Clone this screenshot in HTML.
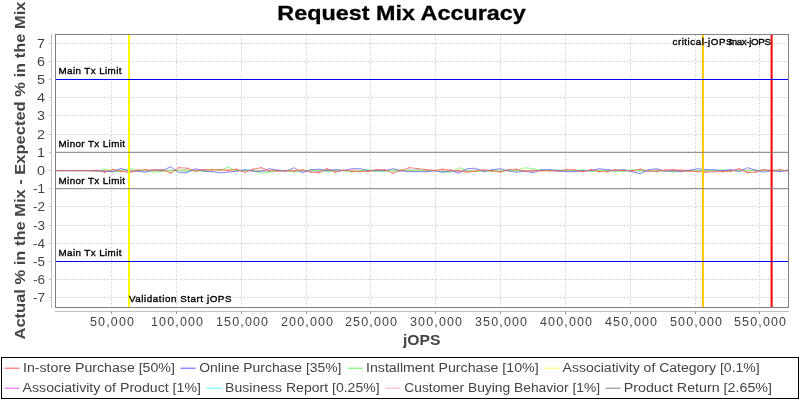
<!DOCTYPE html><html><head><meta charset="utf-8"><style>html,body{margin:0;padding:0;background:#fff;}svg{display:block;will-change:transform;}text{font-family:"Liberation Sans", sans-serif;}</style></head><body>
<svg width="800" height="400" viewBox="0 0 800 400">
<rect x="0" y="0" width="800" height="400" fill="#fff"/>
<text x="277.3" y="20" font-size="21" font-weight="bold" fill="#000" stroke="#000" stroke-width="0.3" textLength="248.5" lengthAdjust="spacingAndGlyphs">Request Mix Accuracy</text>
<g stroke="#d0d0d0" stroke-width="1" stroke-dasharray="2,2"><line x1="55.5" y1="297.5" x2="788" y2="297.5"/><line x1="55.5" y1="279.5" x2="788" y2="279.5"/><line x1="55.5" y1="261.5" x2="788" y2="261.5"/><line x1="55.5" y1="243.5" x2="788" y2="243.5"/><line x1="55.5" y1="225.5" x2="788" y2="225.5"/><line x1="55.5" y1="206.5" x2="788" y2="206.5"/><line x1="55.5" y1="188.5" x2="788" y2="188.5"/><line x1="55.5" y1="170.5" x2="788" y2="170.5"/><line x1="55.5" y1="152.5" x2="788" y2="152.5"/><line x1="55.5" y1="134.5" x2="788" y2="134.5"/><line x1="55.5" y1="115.5" x2="788" y2="115.5"/><line x1="55.5" y1="97.5" x2="788" y2="97.5"/><line x1="55.5" y1="79.5" x2="788" y2="79.5"/><line x1="55.5" y1="61.5" x2="788" y2="61.5"/><line x1="55.5" y1="43.5" x2="788" y2="43.5"/><line x1="111.5" y1="34.5" x2="111.5" y2="307"/><line x1="176.5" y1="34.5" x2="176.5" y2="307"/><line x1="241.5" y1="34.5" x2="241.5" y2="307"/><line x1="306.5" y1="34.5" x2="306.5" y2="307"/><line x1="370.5" y1="34.5" x2="370.5" y2="307"/><line x1="435.5" y1="34.5" x2="435.5" y2="307"/><line x1="500.5" y1="34.5" x2="500.5" y2="307"/><line x1="565.5" y1="34.5" x2="565.5" y2="307"/><line x1="630.5" y1="34.5" x2="630.5" y2="307"/><line x1="695.5" y1="34.5" x2="695.5" y2="307"/><line x1="759.5" y1="34.5" x2="759.5" y2="307"/></g>
<g stroke="#c0c0c0" stroke-width="1" shape-rendering="crispEdges"><line x1="51.5" y1="34" x2="51.5" y2="308"/><line x1="55" y1="311.5" x2="789" y2="311.5"/><line x1="49" y1="297.5" x2="51" y2="297.5"/><line x1="49" y1="279.5" x2="51" y2="279.5"/><line x1="49" y1="261.5" x2="51" y2="261.5"/><line x1="49" y1="243.5" x2="51" y2="243.5"/><line x1="49" y1="225.5" x2="51" y2="225.5"/><line x1="49" y1="206.5" x2="51" y2="206.5"/><line x1="49" y1="188.5" x2="51" y2="188.5"/><line x1="49" y1="170.5" x2="51" y2="170.5"/><line x1="49" y1="152.5" x2="51" y2="152.5"/><line x1="49" y1="134.5" x2="51" y2="134.5"/><line x1="49" y1="115.5" x2="51" y2="115.5"/><line x1="49" y1="97.5" x2="51" y2="97.5"/><line x1="49" y1="79.5" x2="51" y2="79.5"/><line x1="49" y1="61.5" x2="51" y2="61.5"/><line x1="49" y1="43.5" x2="51" y2="43.5"/></g>
<g stroke="#999" stroke-width="1" shape-rendering="crispEdges"><line x1="111.5" y1="311" x2="111.5" y2="314"/><line x1="176.5" y1="311" x2="176.5" y2="314"/><line x1="241.5" y1="311" x2="241.5" y2="314"/><line x1="306.5" y1="311" x2="306.5" y2="314"/><line x1="370.5" y1="311" x2="370.5" y2="314"/><line x1="435.5" y1="311" x2="435.5" y2="314"/><line x1="500.5" y1="311" x2="500.5" y2="314"/><line x1="565.5" y1="311" x2="565.5" y2="314"/><line x1="630.5" y1="311" x2="630.5" y2="314"/><line x1="695.5" y1="311" x2="695.5" y2="314"/><line x1="759.5" y1="311" x2="759.5" y2="314"/></g>
<g font-size="12" fill="#444"><text x="45" y="302" text-anchor="end" textLength="12" lengthAdjust="spacingAndGlyphs">-7</text><text x="45" y="284" text-anchor="end" textLength="12" lengthAdjust="spacingAndGlyphs">-6</text><text x="45" y="266" text-anchor="end" textLength="12" lengthAdjust="spacingAndGlyphs">-5</text><text x="45" y="248" text-anchor="end" textLength="12" lengthAdjust="spacingAndGlyphs">-4</text><text x="45" y="230" text-anchor="end" textLength="12" lengthAdjust="spacingAndGlyphs">-3</text><text x="45" y="211" text-anchor="end" textLength="12" lengthAdjust="spacingAndGlyphs">-2</text><text x="45" y="193" text-anchor="end" textLength="12" lengthAdjust="spacingAndGlyphs">-1</text><text x="45" y="175" text-anchor="end" textLength="8" lengthAdjust="spacingAndGlyphs">0</text><text x="45" y="157" text-anchor="end" textLength="8" lengthAdjust="spacingAndGlyphs">1</text><text x="45" y="139" text-anchor="end" textLength="8" lengthAdjust="spacingAndGlyphs">2</text><text x="45" y="120" text-anchor="end" textLength="8" lengthAdjust="spacingAndGlyphs">3</text><text x="45" y="102" text-anchor="end" textLength="8" lengthAdjust="spacingAndGlyphs">4</text><text x="45" y="84" text-anchor="end" textLength="8" lengthAdjust="spacingAndGlyphs">5</text><text x="45" y="66" text-anchor="end" textLength="8" lengthAdjust="spacingAndGlyphs">6</text><text x="45" y="48" text-anchor="end" textLength="8" lengthAdjust="spacingAndGlyphs">7</text><text x="90.0" y="326" font-size="12.5" textLength="44" lengthAdjust="spacing">50,000</text><text x="151.0" y="326" font-size="12.5" textLength="52" lengthAdjust="spacing">100,000</text><text x="216.0" y="326" font-size="12.5" textLength="52" lengthAdjust="spacing">150,000</text><text x="281.0" y="326" font-size="12.5" textLength="52" lengthAdjust="spacing">200,000</text><text x="345.0" y="326" font-size="12.5" textLength="52" lengthAdjust="spacing">250,000</text><text x="410.0" y="326" font-size="12.5" textLength="52" lengthAdjust="spacing">300,000</text><text x="475.0" y="326" font-size="12.5" textLength="52" lengthAdjust="spacing">350,000</text><text x="540.0" y="326" font-size="12.5" textLength="52" lengthAdjust="spacing">400,000</text><text x="605.0" y="326" font-size="12.5" textLength="52" lengthAdjust="spacing">450,000</text><text x="670.0" y="326" font-size="12.5" textLength="52" lengthAdjust="spacing">500,000</text><text x="734.0" y="326" font-size="12.5" textLength="52" lengthAdjust="spacing">550,000</text></g>
<text x="403" y="345" font-size="14" font-weight="bold" fill="#444" textLength="37.5" lengthAdjust="spacingAndGlyphs">jOPS</text>
<text transform="translate(25,339.5) rotate(-90)" x="0" y="0" font-size="14" font-weight="bold" fill="#444" textLength="338" lengthAdjust="spacingAndGlyphs">Actual % in the Mix - Expected % in the Mix</text>
<defs><clipPath id="pc"><rect x="55.5" y="34" width="733" height="274"/></clipPath></defs>
<g clip-path="url(#pc)"><polyline points="55.2,170.6 63.4,170.6 71.7,170.6 79.9,170.6 88.2,170.6 96.4,171.0 104.6,170.8 112.9,171.2 121.1,171.0 129.4,170.5 137.6,170.4 145.8,170.5 154.1,170.3 162.3,170.5 170.6,170.5 178.8,170.6 187.0,171.0 195.3,170.5 203.5,170.2 211.8,170.9 220.0,170.3 228.2,170.5 236.5,170.6 244.7,170.5 253.0,170.3 261.2,170.5 269.4,171.3 277.7,170.4 285.9,170.6 294.2,170.9 302.4,170.8 310.6,170.8 318.9,170.9 327.1,170.0 335.4,170.3 343.6,170.6 351.8,170.7 360.1,171.0 368.3,170.7 376.6,170.5 384.8,170.6 393.0,170.5 401.3,170.7 409.5,170.8 417.8,170.5 426.0,170.4 434.2,170.3 442.5,170.9 450.7,171.0 459.0,170.9 467.2,170.9 475.4,170.8 483.7,170.6 491.9,170.8 500.2,170.3 508.4,170.5 516.6,170.4 524.9,170.8 533.1,170.4 541.4,170.6 549.6,170.7 557.8,171.0 566.1,170.4 574.3,170.3 582.6,170.8 590.8,170.3 599.0,170.7 607.3,170.4 615.5,170.6 623.8,170.1 632.0,170.8 640.2,170.4 648.5,170.3 656.7,171.2 665.0,170.8 673.2,171.7 681.4,170.7 689.7,170.5 697.9,170.6 706.2,171.1 714.4,170.6 722.6,170.7 730.9,170.8 739.1,170.3 747.4,170.6 755.6,170.4 763.8,170.2 772.1,170.9 780.3,170.8 788.6,170.6" fill="none" stroke="#808080" stroke-width="0.9" stroke-opacity="0.8"/><polyline points="55.2,170.6 63.4,170.6 71.7,170.6 79.9,170.6 88.2,170.6 96.4,170.7 104.6,170.1 112.9,170.8 121.1,170.2 129.4,170.1 137.6,171.1 145.8,170.5 154.1,170.7 162.3,171.0 170.6,170.6 178.8,170.6 187.0,170.0 195.3,170.7 203.5,170.7 211.8,170.9 220.0,170.3 228.2,171.1 236.5,170.1 244.7,170.5 253.0,170.6 261.2,170.2 269.4,170.8 277.7,169.8 285.9,171.3 294.2,171.0 302.4,170.6 310.6,170.4 318.9,170.1 327.1,170.7 335.4,170.9 343.6,170.4 351.8,169.9 360.1,170.3 368.3,170.9 376.6,169.8 384.8,170.1 393.0,170.7 401.3,170.8 409.5,171.2 417.8,170.8 426.0,170.1 434.2,170.5 442.5,170.4 450.7,171.4 459.0,170.0 467.2,171.0 475.4,170.5 483.7,170.7 491.9,170.3 500.2,171.2 508.4,170.2 516.6,170.5 524.9,170.7 533.1,170.2 541.4,170.8 549.6,170.6 557.8,170.2 566.1,171.2 574.3,170.7 582.6,171.2 590.8,170.9 599.0,170.8 607.3,170.9 615.5,170.6 623.8,170.4 632.0,170.9 640.2,170.9 648.5,170.5 656.7,169.9 665.0,170.3 673.2,169.8 681.4,169.7 689.7,170.6 697.9,170.8 706.2,170.7 714.4,170.3 722.6,170.6 730.9,170.5 739.1,170.1 747.4,169.9 755.6,170.5 763.8,170.3 772.1,170.5 780.3,170.1 788.6,171.1" fill="none" stroke="#ffafaf" stroke-width="0.9" stroke-opacity="0.8"/><polyline points="55.2,170.6 63.4,170.6 71.7,170.6 79.9,170.6 88.2,170.6 96.4,170.8 104.6,171.2 112.9,170.2 121.1,170.0 129.4,170.9 137.6,170.9 145.8,170.2 154.1,170.4 162.3,170.4 170.6,170.2 178.8,170.4 187.0,171.1 195.3,170.8 203.5,171.3 211.8,170.6 220.0,170.6 228.2,170.2 236.5,170.6 244.7,170.1 253.0,170.0 261.2,170.9 269.4,171.1 277.7,170.9 285.9,171.1 294.2,170.7 302.4,170.3 310.6,170.6 318.9,170.5 327.1,170.2 335.4,170.0 343.6,170.1 351.8,170.6 360.1,170.7 368.3,170.4 376.6,171.1 384.8,170.7 393.0,170.8 401.3,171.0 409.5,170.3 417.8,169.9 426.0,170.9 434.2,170.4 442.5,171.1 450.7,170.7 459.0,171.0 467.2,170.9 475.4,169.9 483.7,170.9 491.9,170.4 500.2,170.3 508.4,170.4 516.6,170.9 524.9,170.9 533.1,171.0 541.4,170.0 549.6,170.4 557.8,169.7 566.1,170.6 574.3,170.8 582.6,170.3 590.8,170.7 599.0,170.7 607.3,171.0 615.5,170.3 623.8,170.3 632.0,170.3 640.2,171.2 648.5,171.0 656.7,170.6 665.0,170.7 673.2,170.6 681.4,170.7 689.7,170.5 697.9,170.5 706.2,170.1 714.4,170.4 722.6,171.2 730.9,170.8 739.1,170.6 747.4,170.5 755.6,170.6 763.8,170.7 772.1,170.4 780.3,170.7 788.6,170.7" fill="none" stroke="#55ffff" stroke-width="0.9" stroke-opacity="0.8"/><polyline points="55.2,170.6 63.4,170.6 71.7,170.6 79.9,170.6 88.2,170.6 96.4,170.2 104.6,170.8 112.9,170.6 121.1,170.6 129.4,171.2 137.6,170.5 145.8,170.9 154.1,170.7 162.3,170.7 170.6,170.4 178.8,170.5 187.0,170.3 195.3,170.4 203.5,169.7 211.8,170.9 220.0,170.1 228.2,170.6 236.5,170.8 244.7,170.4 253.0,171.0 261.2,171.2 269.4,170.7 277.7,170.4 285.9,170.8 294.2,171.1 302.4,170.8 310.6,170.5 318.9,171.3 327.1,170.4 335.4,170.3 343.6,170.4 351.8,170.7 360.1,170.7 368.3,170.9 376.6,170.5 384.8,170.5 393.0,170.3 401.3,170.8 409.5,170.2 417.8,170.5 426.0,170.8 434.2,170.6 442.5,170.5 450.7,170.7 459.0,171.1 467.2,170.9 475.4,170.2 483.7,170.4 491.9,171.4 500.2,170.6 508.4,170.7 516.6,170.6 524.9,171.0 533.1,170.8 541.4,170.7 549.6,170.3 557.8,170.9 566.1,170.8 574.3,170.9 582.6,171.4 590.8,170.0 599.0,170.3 607.3,170.1 615.5,170.4 623.8,170.5 632.0,170.7 640.2,170.6 648.5,171.1 656.7,170.3 665.0,170.7 673.2,170.6 681.4,170.3 689.7,170.3 697.9,170.6 706.2,170.3 714.4,170.7 722.6,170.6 730.9,170.0 739.1,170.4 747.4,171.1 755.6,170.3 763.8,170.4 772.1,170.0 780.3,170.9 788.6,170.4" fill="none" stroke="#ff55ff" stroke-width="0.9" stroke-opacity="0.8"/><polyline points="55.2,170.6 63.4,170.6 71.7,170.6 79.9,170.6 88.2,170.6 96.4,170.6 104.6,170.1 112.9,170.6 121.1,170.8 129.4,171.0 137.6,170.2 145.8,170.1 154.1,170.9 162.3,170.8 170.6,171.2 178.8,171.0 187.0,170.6 195.3,170.5 203.5,171.5 211.8,170.5 220.0,170.3 228.2,170.2 236.5,170.6 244.7,170.7 253.0,170.5 261.2,170.6 269.4,170.7 277.7,170.8 285.9,171.0 294.2,170.7 302.4,170.0 310.6,170.9 318.9,170.1 327.1,170.5 335.4,170.1 343.6,170.6 351.8,170.3 360.1,170.7 368.3,171.8 376.6,170.6 384.8,170.9 393.0,170.1 401.3,170.5 409.5,170.8 417.8,170.6 426.0,170.7 434.2,170.6 442.5,170.2 450.7,170.8 459.0,170.3 467.2,171.3 475.4,170.4 483.7,170.8 491.9,170.6 500.2,170.9 508.4,170.4 516.6,171.0 524.9,170.6 533.1,171.1 541.4,170.8 549.6,170.7 557.8,170.3 566.1,170.9 574.3,170.8 582.6,171.2 590.8,170.5 599.0,170.8 607.3,170.8 615.5,170.7 623.8,170.7 632.0,170.7 640.2,170.4 648.5,170.2 656.7,170.5 665.0,170.8 673.2,171.1 681.4,171.0 689.7,171.0 697.9,170.9 706.2,170.9 714.4,170.7 722.6,170.9 730.9,171.2 739.1,170.5 747.4,170.4 755.6,171.3 763.8,170.7 772.1,170.9 780.3,170.9 788.6,170.2" fill="none" stroke="#ffff55" stroke-width="0.9" stroke-opacity="0.8"/><polyline points="55.2,170.6 63.4,170.6 71.7,170.6 79.9,170.6 88.2,170.6 96.4,171.0 104.6,169.2 112.9,171.2 121.1,171.2 129.4,168.4 137.6,170.7 145.8,170.7 154.1,172.2 162.3,171.2 170.6,170.7 178.8,170.2 187.0,170.2 195.3,170.7 203.5,170.7 211.8,169.2 220.0,170.2 228.2,167.2 236.5,170.7 244.7,170.7 253.0,170.7 261.2,173.2 269.4,172.2 277.7,170.7 285.9,170.2 294.2,172.2 302.4,170.7 310.6,170.2 318.9,170.7 327.1,171.7 335.4,171.2 343.6,170.7 351.8,172.2 360.1,170.7 368.3,169.7 376.6,171.2 384.8,171.2 393.0,170.7 401.3,170.2 409.5,170.2 417.8,170.2 426.0,171.2 434.2,170.7 442.5,172.2 450.7,172.2 459.0,167.7 467.2,170.7 475.4,171.7 483.7,170.7 491.9,171.2 500.2,171.2 508.4,170.7 516.6,170.7 524.9,167.7 533.1,168.7 541.4,170.7 549.6,170.2 557.8,170.7 566.1,170.7 574.3,170.7 582.6,169.7 590.8,171.7 599.0,170.7 607.3,170.7 615.5,171.2 623.8,171.7 632.0,169.7 640.2,170.7 648.5,170.7 656.7,170.7 665.0,170.7 673.2,172.2 681.4,170.7 689.7,170.7 697.9,170.7 706.2,170.7 714.4,170.7 722.6,169.7 730.9,170.7 739.1,170.7 747.4,170.7 755.6,170.7 763.8,170.2 772.1,170.7 780.3,170.7 788.6,170.7" fill="none" stroke="#55ff55" stroke-width="0.9" stroke-opacity="0.8"/><polyline points="55.2,170.6 63.4,170.6 71.7,170.6 79.9,170.6 88.2,170.6 96.4,170.7 104.6,171.2 112.9,171.7 121.1,168.4 129.4,171.2 137.6,171.2 145.8,172.2 154.1,169.7 162.3,170.7 170.6,166.7 178.8,172.7 187.0,172.7 195.3,168.7 203.5,171.2 211.8,171.7 220.0,172.7 228.2,172.2 236.5,171.2 244.7,169.7 253.0,171.2 261.2,171.2 269.4,168.7 277.7,170.2 285.9,171.2 294.2,167.7 302.4,172.7 310.6,169.7 318.9,169.2 327.1,170.7 335.4,169.7 343.6,170.7 351.8,168.7 360.1,168.7 368.3,170.7 376.6,170.7 384.8,170.7 393.0,168.7 401.3,170.7 409.5,171.7 417.8,171.7 426.0,171.7 434.2,170.7 442.5,172.2 450.7,170.7 459.0,173.2 467.2,168.7 475.4,168.2 483.7,171.7 491.9,169.7 500.2,168.7 508.4,171.0 516.6,172.2 524.9,171.2 533.1,172.7 541.4,169.7 549.6,169.7 557.8,170.7 566.1,171.7 574.3,171.7 582.6,170.7 590.8,170.7 599.0,168.7 607.3,169.7 615.5,170.7 623.8,169.7 632.0,171.7 640.2,173.7 648.5,169.7 656.7,168.7 665.0,171.2 673.2,170.7 681.4,171.7 689.7,170.2 697.9,168.7 706.2,169.7 714.4,169.7 722.6,170.7 730.9,169.7 739.1,171.7 747.4,167.7 755.6,170.2 763.8,172.2 772.1,170.7 780.3,171.7 788.6,169.7" fill="none" stroke="#5555ff" stroke-width="0.9" stroke-opacity="0.8"/><polyline points="55.2,170.6 63.4,170.6 71.7,170.6 79.9,170.6 88.2,170.6 96.4,170.6 104.6,172.2 112.9,169.4 121.1,171.2 129.4,172.7 137.6,170.2 145.8,169.7 154.1,170.2 162.3,169.7 170.6,173.0 178.8,167.7 187.0,168.2 195.3,171.2 203.5,169.7 211.8,169.7 220.0,169.7 228.2,170.2 236.5,169.2 244.7,172.2 253.0,169.2 261.2,167.7 269.4,170.7 277.7,171.2 285.9,170.7 294.2,170.7 302.4,169.7 310.6,172.2 318.9,172.7 327.1,168.7 335.4,172.2 343.6,170.2 351.8,171.2 360.1,171.7 368.3,171.2 376.6,169.7 384.8,169.7 393.0,173.2 401.3,170.2 409.5,167.7 417.8,168.7 426.0,169.7 434.2,170.5 442.5,169.2 450.7,170.2 459.0,170.7 467.2,172.2 475.4,171.2 483.7,169.7 491.9,170.7 500.2,172.2 508.4,169.7 516.6,169.2 524.9,171.2 533.1,170.7 541.4,170.7 549.6,170.7 557.8,170.7 566.1,169.7 574.3,169.7 582.6,171.7 590.8,169.7 599.0,171.7 607.3,171.7 615.5,169.7 623.8,170.7 632.0,170.7 640.2,169.2 648.5,171.2 656.7,171.2 665.0,170.2 673.2,169.7 681.4,170.7 689.7,171.2 697.9,171.7 706.2,172.2 714.4,171.7 722.6,171.7 730.9,171.2 739.1,168.7 747.4,172.7 755.6,172.2 763.8,169.7 772.1,170.7 780.3,169.7 788.6,171.2" fill="none" stroke="#ff5555" stroke-width="0.9" stroke-opacity="0.8"/><g fill="#ff5555"><rect x="54.6" y="170.0" width="1.2" height="1.2"/><rect x="62.8" y="170.0" width="1.2" height="1.2"/><rect x="71.1" y="170.0" width="1.2" height="1.2"/><rect x="79.3" y="170.0" width="1.2" height="1.2"/><rect x="87.6" y="170.0" width="1.2" height="1.2"/><rect x="95.8" y="170.0" width="1.2" height="1.2"/><rect x="104.0" y="171.6" width="1.2" height="1.2"/><rect x="112.3" y="168.8" width="1.2" height="1.2"/><rect x="120.5" y="170.6" width="1.2" height="1.2"/><rect x="128.8" y="172.1" width="1.2" height="1.2"/><rect x="137.0" y="169.6" width="1.2" height="1.2"/><rect x="145.2" y="169.1" width="1.2" height="1.2"/><rect x="153.5" y="169.6" width="1.2" height="1.2"/><rect x="161.7" y="169.1" width="1.2" height="1.2"/><rect x="170.0" y="172.4" width="1.2" height="1.2"/><rect x="178.2" y="167.1" width="1.2" height="1.2"/><rect x="186.4" y="167.6" width="1.2" height="1.2"/><rect x="194.7" y="170.6" width="1.2" height="1.2"/><rect x="202.9" y="169.1" width="1.2" height="1.2"/><rect x="211.2" y="169.1" width="1.2" height="1.2"/><rect x="219.4" y="169.1" width="1.2" height="1.2"/><rect x="227.6" y="169.6" width="1.2" height="1.2"/><rect x="235.9" y="168.6" width="1.2" height="1.2"/><rect x="244.1" y="171.6" width="1.2" height="1.2"/><rect x="252.4" y="168.6" width="1.2" height="1.2"/><rect x="260.6" y="167.1" width="1.2" height="1.2"/><rect x="268.8" y="170.1" width="1.2" height="1.2"/><rect x="277.1" y="170.6" width="1.2" height="1.2"/><rect x="285.3" y="170.1" width="1.2" height="1.2"/><rect x="293.6" y="170.1" width="1.2" height="1.2"/><rect x="301.8" y="169.1" width="1.2" height="1.2"/><rect x="310.0" y="171.6" width="1.2" height="1.2"/><rect x="318.3" y="172.1" width="1.2" height="1.2"/><rect x="326.5" y="168.1" width="1.2" height="1.2"/><rect x="334.8" y="171.6" width="1.2" height="1.2"/><rect x="343.0" y="169.6" width="1.2" height="1.2"/><rect x="351.2" y="170.6" width="1.2" height="1.2"/><rect x="359.5" y="171.1" width="1.2" height="1.2"/><rect x="367.7" y="170.6" width="1.2" height="1.2"/><rect x="376.0" y="169.1" width="1.2" height="1.2"/><rect x="384.2" y="169.1" width="1.2" height="1.2"/><rect x="392.4" y="172.6" width="1.2" height="1.2"/><rect x="400.7" y="169.6" width="1.2" height="1.2"/><rect x="408.9" y="167.1" width="1.2" height="1.2"/><rect x="417.2" y="168.1" width="1.2" height="1.2"/><rect x="425.4" y="169.1" width="1.2" height="1.2"/><rect x="433.6" y="169.9" width="1.2" height="1.2"/><rect x="441.9" y="168.6" width="1.2" height="1.2"/><rect x="450.1" y="169.6" width="1.2" height="1.2"/><rect x="458.4" y="170.1" width="1.2" height="1.2"/><rect x="466.6" y="171.6" width="1.2" height="1.2"/><rect x="474.8" y="170.6" width="1.2" height="1.2"/><rect x="483.1" y="169.1" width="1.2" height="1.2"/><rect x="491.3" y="170.1" width="1.2" height="1.2"/><rect x="499.6" y="171.6" width="1.2" height="1.2"/><rect x="507.8" y="169.1" width="1.2" height="1.2"/><rect x="516.0" y="168.6" width="1.2" height="1.2"/><rect x="524.3" y="170.6" width="1.2" height="1.2"/><rect x="532.5" y="170.1" width="1.2" height="1.2"/><rect x="540.8" y="170.1" width="1.2" height="1.2"/><rect x="549.0" y="170.1" width="1.2" height="1.2"/><rect x="557.2" y="170.1" width="1.2" height="1.2"/><rect x="565.5" y="169.1" width="1.2" height="1.2"/><rect x="573.7" y="169.1" width="1.2" height="1.2"/><rect x="582.0" y="171.1" width="1.2" height="1.2"/><rect x="590.2" y="169.1" width="1.2" height="1.2"/><rect x="598.4" y="171.1" width="1.2" height="1.2"/><rect x="606.7" y="171.1" width="1.2" height="1.2"/><rect x="614.9" y="169.1" width="1.2" height="1.2"/><rect x="623.2" y="170.1" width="1.2" height="1.2"/><rect x="631.4" y="170.1" width="1.2" height="1.2"/><rect x="639.6" y="168.6" width="1.2" height="1.2"/><rect x="647.9" y="170.6" width="1.2" height="1.2"/><rect x="656.1" y="170.6" width="1.2" height="1.2"/><rect x="664.4" y="169.6" width="1.2" height="1.2"/><rect x="672.6" y="169.1" width="1.2" height="1.2"/><rect x="680.8" y="170.1" width="1.2" height="1.2"/><rect x="689.1" y="170.6" width="1.2" height="1.2"/><rect x="697.3" y="171.1" width="1.2" height="1.2"/><rect x="705.6" y="171.6" width="1.2" height="1.2"/><rect x="713.8" y="171.1" width="1.2" height="1.2"/><rect x="722.0" y="171.1" width="1.2" height="1.2"/><rect x="730.3" y="170.6" width="1.2" height="1.2"/><rect x="738.5" y="168.1" width="1.2" height="1.2"/><rect x="746.8" y="172.1" width="1.2" height="1.2"/><rect x="755.0" y="171.6" width="1.2" height="1.2"/><rect x="763.2" y="169.1" width="1.2" height="1.2"/><rect x="771.5" y="170.1" width="1.2" height="1.2"/><rect x="779.7" y="169.1" width="1.2" height="1.2"/><rect x="788.0" y="170.6" width="1.2" height="1.2"/></g></g>
<rect x="128" y="34" width="2" height="273" fill="#ffff00"/>
<rect x="701.9" y="34" width="2" height="273" fill="#ffc800"/>
<rect x="770.6" y="34" width="2" height="273" fill="#ff0000"/>
<g>
<line x1="55.5" y1="79.50" x2="788" y2="79.50" stroke="#0000ff" stroke-width="1"/>
<line x1="55.5" y1="261.50" x2="788" y2="261.50" stroke="#0000ff" stroke-width="1"/>
<line x1="55.5" y1="152.30" x2="788" y2="152.30" stroke="#808080" stroke-width="1"/>
<line x1="55.5" y1="188.70" x2="788" y2="188.70" stroke="#808080" stroke-width="1"/>
</g>
<g font-size="9.8" fill="#000" stroke="#000" stroke-width="0.35"><text x="58.5" y="74" textLength="63" lengthAdjust="spacing">Main Tx Limit</text><text x="58.5" y="256" textLength="63" lengthAdjust="spacing">Main Tx Limit</text><text x="58.5" y="147" textLength="66.5" lengthAdjust="spacing">Minor Tx Limit</text><text x="58.5" y="184" textLength="66.5" lengthAdjust="spacing">Minor Tx Limit</text><text x="129" y="302" textLength="102.5" lengthAdjust="spacing">Validation Start jOPS</text><text x="672.5" y="45" textLength="60" lengthAdjust="spacing">critical-jOPS</text><text x="729" y="45" textLength="42" lengthAdjust="spacing">max-jOPS</text></g>
<rect x="55.5" y="34.5" width="733" height="273" fill="none" stroke="#808080" stroke-width="1" shape-rendering="crispEdges"/>
<rect x="1.5" y="357.5" width="797" height="41" fill="none" stroke="#000" stroke-width="1" shape-rendering="crispEdges"/>
<g font-size="12" fill="#444"><line x1="4.5" y1="368.2" x2="19.5" y2="368.2" stroke="#ff5555" stroke-width="1"/><text x="23.0" y="372" textLength="151.9" lengthAdjust="spacingAndGlyphs">In-store Purchase [50%]</text><line x1="180.5" y1="368.2" x2="195.5" y2="368.2" stroke="#5555ff" stroke-width="1"/><text x="199.25" y="372" textLength="142.2" lengthAdjust="spacingAndGlyphs">Online Purchase [35%]</text><line x1="347.5" y1="368.2" x2="362.5" y2="368.2" stroke="#55ff55" stroke-width="1"/><text x="366.0" y="372" textLength="172.6" lengthAdjust="spacingAndGlyphs">Installment Purchase [10%]</text><line x1="544.5" y1="368.2" x2="559.5" y2="368.2" stroke="#ffff55" stroke-width="1"/><text x="562.6" y="372" textLength="197.1" lengthAdjust="spacingAndGlyphs">Associativity of Category [0.1%]</text><line x1="4.5" y1="388.2" x2="19.5" y2="388.2" stroke="#ff55ff" stroke-width="1"/><text x="22.6" y="392" textLength="178.3" lengthAdjust="spacingAndGlyphs">Associativity of Product [1%]</text><line x1="206.5" y1="388.2" x2="221.5" y2="388.2" stroke="#55ffff" stroke-width="1"/><text x="225.1" y="392" textLength="154.5" lengthAdjust="spacingAndGlyphs">Business Report [0.25%]</text><line x1="385.5" y1="388.2" x2="400.5" y2="388.2" stroke="#ffafaf" stroke-width="1"/><text x="404.25" y="392" textLength="195.8" lengthAdjust="spacingAndGlyphs">Customer Buying Behavior [1%]</text><line x1="605.5" y1="388.2" x2="620.5" y2="388.2" stroke="#808080" stroke-width="1"/><text x="623.75" y="392" textLength="148.2" lengthAdjust="spacingAndGlyphs">Product Return [2.65%]</text></g>
</svg></body></html>
